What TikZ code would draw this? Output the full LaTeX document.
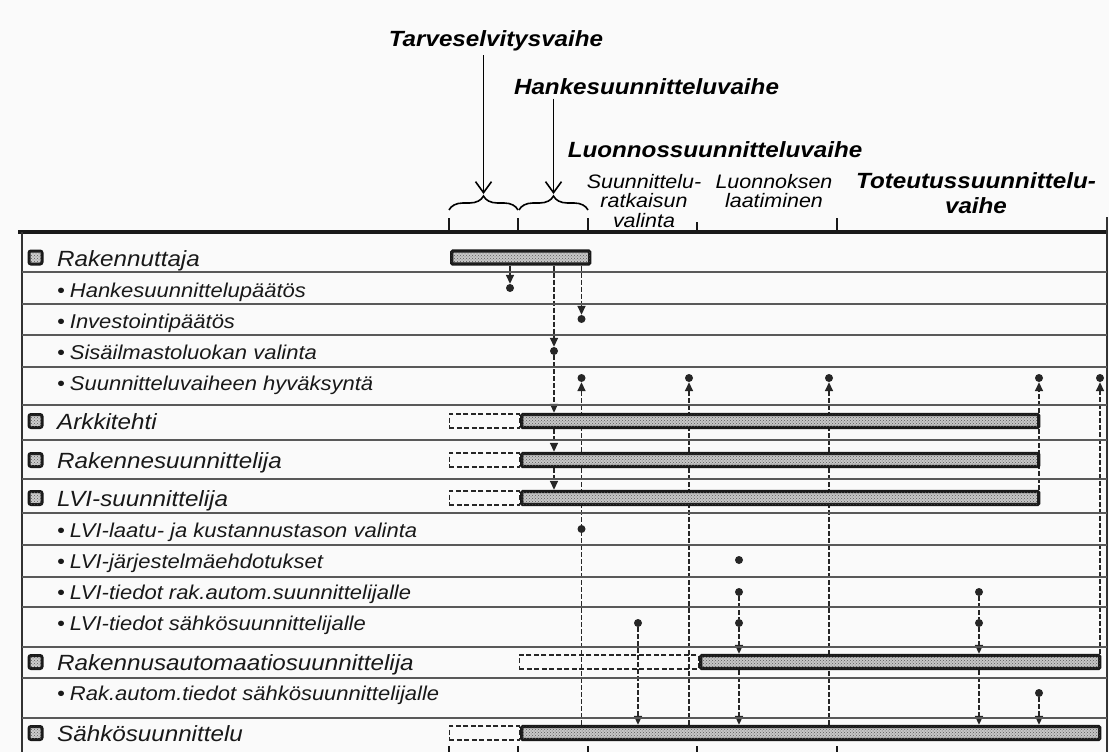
\documentclass[tikz,border=0pt]{standalone}
\usepackage{fontspec}
\setmainfont{Liberation Sans}[FakeStretch=1.1]
\usetikzlibrary{arrows.meta,patterns,decorations.pathreplacing}
\pgfdeclarelayer{bg}
\pgfdeclarelayer{back}
\pgfsetlayers{bg,back,main}
\def\labfont{\fontsize{22}{26}\selectfont\itshape}
\def\subfont{\fontsize{20}{24}\selectfont\itshape}
\def\headfont{\fontsize{22}{25}\selectfont\bfseries\itshape}
\def\phasefont{\fontsize{19.5}{19.5}\selectfont\itshape}
\tikzset{
	bar/.style={draw=black!90, line width=3.4pt, rounded corners=1.2pt, fill=black!22, postaction={pattern=crosshatch dots, pattern color=black!65}, minimum height=13pt, inner sep=0pt, anchor=west},
	ghost/.style={draw=black!85, line width=1.5pt, dash pattern=on 5pt off 2.5pt, minimum height=14pt, inner sep=0pt, anchor=east},
	icon/.style={draw=black!90, line width=3pt, rounded corners=2pt, fill=black!20, postaction={pattern=crosshatch dots, pattern color=black!65}, minimum size=13pt, inner sep=0pt},
	dot/.style={circle, fill=black!85, inner sep=0pt, minimum size=8pt},
	dep/.style={draw=black!85, line width=1.6pt, dash pattern=on 5pt off 2pt},
	arr/.style={-{Triangle[length=9pt,width=8pt]}},
	rowlab/.style={anchor=base west, inner sep=0pt, text=black!90, font=\labfont},
	sublab/.style={anchor=base west, inner sep=0pt, text=black!90, font=\subfont},
	rule/.style={draw=black!65, line width=1.3pt},
	tickmark/.style={draw=black!90, line width=2.6pt},
	hbrace/.style={decorate, decoration={brace, amplitude=14pt}, line width=1.6pt},
	harrow/.style={line width=1.6pt, -{Straight Barb[length=11pt,width=16pt,line width=1.6pt]}},
}

\begin{document}
\begin{tikzpicture}[x=1pt,y=-1pt]
			%%%%% START %%%%%
			\useasboundingbox (0,0) rectangle (1109,752);
			\begin{pgfonlayer}{bg}
			\fill[black!2] (0,0) rectangle (1109,752);
			\end{pgfonlayer}
			
			\draw[line width=3.2pt, black!90] (18,232) -- (1108,232);
			\draw[line width=2.2pt, black!80] (22,232) -- (22,752);
			\draw[line width=1.4pt, black!80] (1107,217) -- (1107,752);
			\foreach \y in {272,304,335,367,405,440,479,513,545,577,607,647,678,718}
				\draw[rule] (22,\y) -- (1107,\y);
			\foreach \x/\t in {449/218,518/218,588/218,697/222,837/218}
				\draw[tickmark] (\x,\t) -- (\x,232);
			\foreach \x in {449,518,588,697,837}
				\draw[tickmark] (\x,746) -- (\x,752);
			
			\node[font=\headfont, anchor=base] (tarve) at (496,47) {Tarveselvitysvaihe};
			\node[font=\headfont, anchor=base] (hanke) at (646.5,95) {Hankesuunnitteluvaihe};
			\node[font=\headfont, anchor=base] (luonnos) at (715,157) {Luonnossuunnitteluvaihe};
			\node[font=\phasefont, align=center, anchor=north, inner sep=0pt] (valinta) at (644,174) {Suunnittelu-\\ratkaisun\\valinta};
			\node[font=\phasefont, align=center, anchor=north, inner sep=0pt] (laadinta) at (774,174) {Luonnoksen\\laatiminen};
			\node[font=\headfont, align=center, anchor=north, inner sep=0pt] (toteutus) at (976,172) {Toteutussuunnittelu-\\vaihe};
			
			\draw[hbrace] (449,210) -- (518,210);
			\draw[hbrace] (519,210) -- (588,210);
			\coordinate (bt1) at (483.5,194);
			\coordinate (bt2) at (553.5,194);
			\draw[harrow] (tarve.south -| bt1) -- (bt1);
			\draw[harrow] (hanke.south -| bt2) -- (bt2);
			
			\node[icon] (irak) at (35.5,257.5) {};
			\node[rowlab] (lrak) at (57,266) {Rakennuttaja};
			\node[sublab] (lhp) at (57,297) {•\hspace{5pt}Hankesuunnittelupäätös};
			\node[sublab] (lip) at (57,328) {•\hspace{5pt}Investointipäätös};
			\node[sublab] (lsv) at (57,359) {•\hspace{5pt}Sisäilmastoluokan valinta};
			\node[sublab] (lsh) at (57,390) {•\hspace{5pt}Suunnitteluvaiheen hyväksyntä};
			\node[icon] (iark) at (35.5,421) {};
			\node[rowlab] (lark) at (57,429) {Arkkitehti};
			\node[icon] (irkn) at (35.5,460) {};
			\node[rowlab] (lrkn) at (57,468) {Rakennesuunnittelija};
			\node[icon] (ilvi) at (35.5,498) {};
			\node[rowlab] (llvi) at (57,506) {LVI-suunnittelija};
			\node[sublab] (lkt) at (57,537) {•\hspace{5pt}LVI-laatu- ja kustannustason valinta};
			\node[sublab] (lje) at (57,568) {•\hspace{5pt}LVI-järjestelmäehdotukset};
			\node[sublab] (ltr) at (57,599) {•\hspace{5pt}LVI-tiedot rak.autom.suunnittelijalle};
			\node[sublab] (lts) at (57,630) {•\hspace{5pt}LVI-tiedot sähkösuunnittelijalle};
			\node[icon] (ira) at (35.5,662) {};
			\node[rowlab] (lra) at (57,670) {Rakennusautomaatiosuunnittelija};
			\node[sublab] (lrs) at (57,700) {•\hspace{5pt}Rak.autom.tiedot sähkösuunnittelijalle};
			\node[icon] (isah) at (35.5,733) {};
			\node[rowlab] (lsah) at (57,741) {Sähkösuunnittelu};
			
			\node[bar, minimum width=138pt] (brak) at (450,257.5) {};
			\node[bar, minimum width=517pt] (bark) at (520,421) {};
			\node[ghost, minimum width=70pt] (gark) at (bark.west) {};
			\node[bar, minimum width=517pt] (brkn) at (520,460) {};
			\node[ghost, minimum width=70pt] (grkn) at (brkn.west) {};
			\node[bar, minimum width=517pt] (blvi) at (520,498) {};
			\node[ghost, minimum width=70pt] (glvi) at (blvi.west) {};
			\node[bar, minimum width=399pt] (bra) at (699,662) {};
			\node[ghost, minimum width=179pt] (gra) at (bra.west) {};
			\node[bar, minimum width=578pt] (bsah) at (520,733) {};
			\node[ghost, minimum width=70pt] (gsah) at (bsah.west) {};
			
			\node[dot] (dhp) at (510,288) {};
			\node[dot] (dip) at (581.5,319) {};
			\node[dot] (dsv) at (554,351) {};
			\node[dot] (dsh1) at (581.5,378) {};
			\node[dot] (dsh2) at (689,378) {};
			\node[dot] (dsh3) at (829,378) {};
			\node[dot] (dsh4) at (1039,378) {};
			\node[dot] (dsh5) at (1100,378) {};
			\node[dot] (dkt) at (581.5,529) {};
			\node[dot] (dje) at (739,560) {};
			\node[dot] (dtr1) at (739,592) {};
			\node[dot] (dtr2) at (979,592) {};
			\node[dot] (dts1) at (638,623) {};
			\node[dot] (dts2) at (739,623) {};
			\node[dot] (dts3) at (979,623) {};
			\node[dot] (drs) at (1039,693) {};
			
			\begin{pgfonlayer}{back}
			\draw[dep, arr] (dhp |- brak.south) -- (dhp);
			\draw[dep, arr] (dip |- brak.south) -- (dip);
			\draw[dep, arr] (dsv |- brak.south) -- (dsv);
			\draw[dep, arr] (dsv) -- (dsv |- bark.north);
			\draw[dep, arr] (dsv |- bark.south) -- (dsv |- brkn.north);
			\draw[dep, arr] (dsv |- brkn.south) -- (dsv |- blvi.north);
			\draw[dep, arr] (dsh1 |- bsah.north) -- (dsh1);
			\draw[dep, arr] (dsh2 |- bsah.north) -- (dsh2);
			\draw[dep, arr] (dsh3 |- bsah.north) -- (dsh3);
			\draw[dep, arr] (dsh4 |- blvi.north) -- (dsh4);
			\draw[dep, arr] (dsh5 |- bra.north) -- (dsh5);
			\draw[dep] (dtr1) -- (dts2);
			\draw[dep] (dtr2) -- (dts3);
			\draw[dep, arr] (dts2) -- (dts2 |- bra.north);
			\draw[dep, arr] (dts3) -- (dts3 |- bra.north);
			\draw[dep, arr] (dts2 |- bra.south) -- (dts2 |- bsah.north);
			\draw[dep, arr] (dts3 |- bra.south) -- (dts3 |- bsah.north);
			\draw[dep, arr] (dts1) -- (dts1 |- bsah.north);
			\draw[dep, arr] (drs) -- (drs |- bsah.north);
			\end{pgfonlayer}
			%%%%% END %%%%%
\end{tikzpicture}
\end{document}
